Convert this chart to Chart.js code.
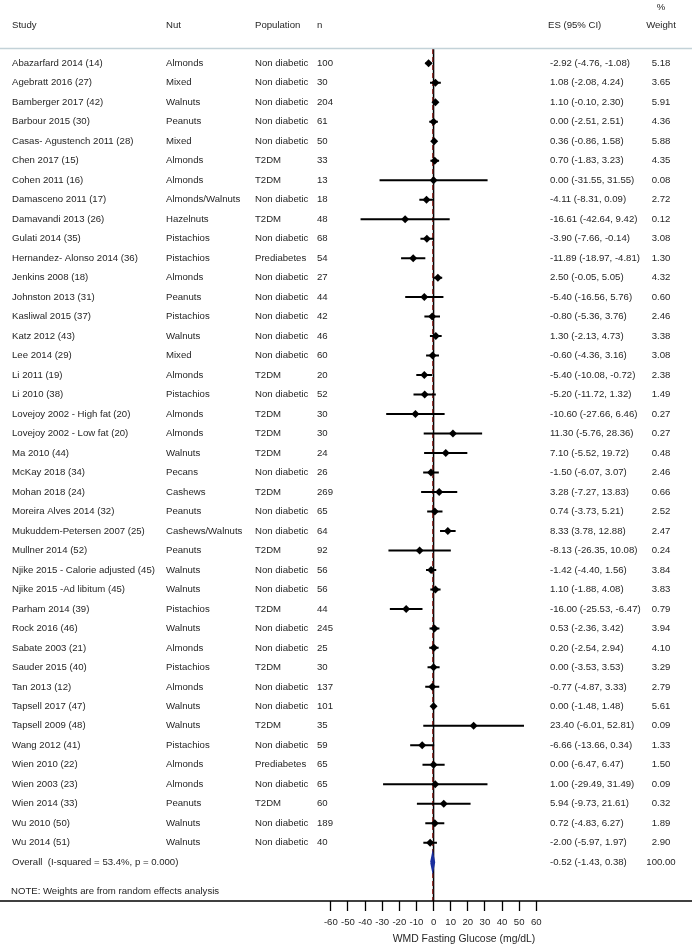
<!DOCTYPE html>
<html>
<head>
<meta charset="utf-8">
<script src="https://cdn.jsdelivr.net/npm/chart.js@4.4.1/dist/chart.umd.min.js"></script>
<style>
  body { margin: 0; background: #fff; }
  canvas { display: block; }
</style>
</head>
<body>
<canvas id="forest" width="692" height="944"></canvas>
<script>
// dados
const studies = [
  'Abazarfard 2014 (14)', 'Agebratt 2016 (27)', 'Bamberger 2017 (42)', 'Barbour 2015 (30)',
  'Casas- Agustench 2011 (28)', 'Chen 2017 (15)', 'Cohen 2011 (16)', 'Damasceno 2011 (17)',
  'Damavandi 2013 (26)', 'Gulati 2014 (35)', 'Hernandez- Alonso 2014 (36)', 'Jenkins 2008 (18)',
  'Johnston 2013 (31)', 'Kasliwal 2015 (37)', 'Katz 2012 (43)', 'Lee 2014 (29)',
  'Li 2011 (19)', 'Li 2010 (38)', 'Lovejoy 2002 - High fat (20)', 'Lovejoy 2002 - Low fat (20)',
  'Ma 2010 (44)', 'McKay 2018 (34)', 'Mohan 2018 (24)', 'Moreira Alves 2014 (32)',
  'Mukuddem-Petersen 2007 (25)', 'Mullner 2014 (52)', 'Njike 2015 - Calorie adjusted (45)', 'Njike 2015 -Ad libitum (45)',
  'Parham 2014 (39)', 'Rock 2016 (46)', 'Sabate 2003 (21)', 'Sauder 2015 (40)',
  'Tan 2013 (12)', 'Tapsell 2017 (47)', 'Tapsell 2009 (48)', 'Wang 2012 (41)',
  'Wien 2010 (22)', 'Wien 2003 (23)', 'Wien 2014 (33)', 'Wu 2010 (50)', 'Wu 2014 (51)'
];
const nuts = [
  'Almonds', 'Mixed', 'Walnuts', 'Peanuts', 'Mixed', 'Almonds', 'Almonds', 'Almonds/Walnuts',
  'Hazelnuts', 'Pistachios', 'Pistachios', 'Almonds', 'Peanuts', 'Pistachios', 'Walnuts', 'Mixed',
  'Almonds', 'Pistachios', 'Almonds', 'Almonds', 'Walnuts', 'Pecans', 'Cashews', 'Peanuts',
  'Cashews/Walnuts', 'Peanuts', 'Walnuts', 'Walnuts', 'Pistachios', 'Walnuts', 'Almonds', 'Pistachios',
  'Almonds', 'Walnuts', 'Walnuts', 'Pistachios', 'Almonds', 'Almonds', 'Peanuts', 'Walnuts', 'Walnuts'
];
const populations = [
  'Non diabetic', 'Non diabetic', 'Non diabetic', 'Non diabetic', 'Non diabetic', 'T2DM', 'T2DM', 'Non diabetic',
  'T2DM', 'Non diabetic', 'Prediabetes', 'Non diabetic', 'Non diabetic', 'Non diabetic', 'Non diabetic', 'Non diabetic',
  'T2DM', 'Non diabetic', 'T2DM', 'T2DM', 'T2DM', 'Non diabetic', 'T2DM', 'Non diabetic',
  'Non diabetic', 'T2DM', 'Non diabetic', 'Non diabetic', 'T2DM', 'Non diabetic', 'Non diabetic', 'T2DM',
  'Non diabetic', 'Non diabetic', 'T2DM', 'Non diabetic', 'Prediabetes', 'Non diabetic', 'T2DM', 'Non diabetic', 'Non diabetic'
];
const sampleSizes = [
  100, 30, 204, 61, 50, 33, 13, 18, 48, 68, 54, 27, 44, 42, 46, 60, 20, 52, 30, 30, 24,
  26, 269, 65, 64, 92, 56, 56, 44, 245, 25, 30, 137, 101, 35, 59, 65, 65, 60, 189, 40
];
const es = [
  -2.92, 1.08, 1.10, 0.00, 0.36, 0.70, 0.00, -4.11, -16.61, -3.90, -11.89, 2.50, -5.40, -0.80,
  1.30, -0.60, -5.40, -5.20, -10.60, 11.30, 7.10, -1.50, 3.28, 0.74, 8.33, -8.13, -1.42, 1.10,
  -16.00, 0.53, 0.20, 0.00, -0.77, 0.00, 23.40, -6.66, 0.00, 1.00, 5.94, 0.72, -2.00
];
const ciLow = [
  -4.76, -2.08, -0.10, -2.51, -0.86, -1.83, -31.55, -8.31, -42.64, -7.66, -18.97, -0.05, -16.56, -5.36,
  -2.13, -4.36, -10.08, -11.72, -27.66, -5.76, -5.52, -6.07, -7.27, -3.73, 3.78, -26.35, -4.40, -1.88,
  -25.53, -2.36, -2.54, -3.53, -4.87, -1.48, -6.01, -13.66, -6.47, -29.49, -9.73, -4.83, -5.97
];
const ciHigh = [
  -1.08, 4.24, 2.30, 2.51, 1.58, 3.23, 31.55, 0.09, 9.42, -0.14, -4.81, 5.05, 5.76, 3.76,
  4.73, 3.16, -0.72, 1.32, 6.46, 28.36, 19.72, 3.07, 13.83, 5.21, 12.88, 10.08, 1.56, 4.08,
  -6.47, 3.42, 2.94, 3.53, 3.33, 1.48, 52.81, 0.34, 6.47, 31.49, 21.61, 6.27, 1.97
];
const weights = [
  5.18, 3.65, 5.91, 4.36, 5.88, 4.35, 0.08, 2.72, 0.12, 3.08, 1.30, 4.32, 0.60, 2.46,
  3.38, 3.08, 2.38, 1.49, 0.27, 0.27, 0.48, 2.46, 0.66, 2.52, 2.47, 0.24, 3.84, 3.83,
  0.79, 3.94, 4.10, 3.29, 2.79, 5.61, 0.09, 1.33, 1.50, 0.09, 0.32, 1.89, 2.90
];
const overallLabel = 'Overall  (I-squared = 53.4%, p = 0.000)';
const overallES = -0.52;
const overallLow = -1.43;
const overallHigh = 0.38;
const overallWeight = 100.00;
const noteText = 'NOTE: Weights are from random effects analysis';

const tickValues = [-60, -50, -40, -30, -20, -10, 0, 10, 20, 30, 40, 50, 60];
const tickLabels = ['-60', '-50', '-40', '-30', '-20', '-10', '0', '10', '20', '30', '40', '50', '60'];
const xTitle = 'WMD Fasting Glucose (mg/dL)';

const FONT = '"Liberation Sans", Arial, sans-serif';
const overallRow = studies.length;
const yTop = -0.733;
const yBottom = 42.99;

// linhas do IC separadas por pontos nulos
const ciData = [];
studies.forEach((s, i) => {
  ciData.push({ x: ciLow[i], y: i });
  ciData.push({ x: ciHigh[i], y: i });
  ciData.push({ x: ciHigh[i], y: null });
});
const pointData = es.map((v, i) => ({ x: v, y: i }));
const diamondData = [
  { x: overallLow, y: overallRow },
  { x: overallES, y: overallRow - 0.39 },
  { x: overallHigh, y: overallRow },
  { x: overallES, y: overallRow + 0.39 },
  { x: overallLow, y: overallRow }
];

function fmt(v) { return v.toFixed(2); }

const textColumns = {
  id: 'textColumns',
  afterDraw(chart) {
    const ctx = chart.ctx;
    const y = chart.scales.y;
    const area = chart.chartArea;
    ctx.save();
    // linha do cabeçalho
    ctx.strokeStyle = '#c3d2d8';
    ctx.lineWidth = 1.5;
    ctx.beginPath();
    ctx.moveTo(0, 48.5);
    ctx.lineTo(692, 48.5);
    ctx.stroke();
    // eixo x na largura toda
    ctx.strokeStyle = '#000';
    ctx.lineWidth = 1.3;
    ctx.beginPath();
    ctx.moveTo(0, area.bottom);
    ctx.lineTo(692, area.bottom);
    ctx.stroke();

    ctx.font = '9.6px ' + FONT;
    ctx.fillStyle = '#262626';
    ctx.textBaseline = 'middle';
    ctx.textAlign = 'left';
    ctx.fillText('Study', 12, 25);
    ctx.fillText('Nut', 166, 25);
    ctx.fillText('Population', 255, 25);
    ctx.fillText('n', 317, 25);
    ctx.fillText('ES (95% CI)', 548, 25);
    ctx.textAlign = 'center';
    ctx.fillText('%', 661, 7);
    ctx.fillText('Weight', 661, 25);

    studies.forEach((s, i) => {
      const py = y.getPixelForValue(i);
      ctx.textAlign = 'left';
      ctx.fillText(s, 12, py);
      ctx.fillText(nuts[i], 166, py);
      ctx.fillText(populations[i], 255, py);
      ctx.fillText(String(sampleSizes[i]), 317, py);
      ctx.fillText(fmt(es[i]) + ' (' + fmt(ciLow[i]) + ', ' + fmt(ciHigh[i]) + ')', 550, py);
      ctx.textAlign = 'center';
      ctx.fillText(fmt(weights[i]), 661, py);
    });
    const po = y.getPixelForValue(overallRow);
    ctx.textAlign = 'left';
    ctx.fillText(overallLabel, 12, po);
    ctx.fillText(fmt(overallES) + ' (' + fmt(overallLow) + ', ' + fmt(overallHigh) + ')', 550, po);
    ctx.textAlign = 'center';
    ctx.fillText(fmt(overallWeight), 661, po);
    ctx.textAlign = 'left';
    ctx.fillText(noteText, 11, 891);
    ctx.restore();
  }
};

const forest = document.getElementById('forest');

new Chart(forest, {
  type: 'line',
  data: {
    datasets: [
      {
        label: 'zero',
        data: [{ x: 0, y: yTop }, { x: 0, y: yBottom }],
        borderColor: '#000',
        borderWidth: 1.5,
        pointRadius: 0,
        order: 5
      },
      {
        label: 'overall',
        data: [{ x: overallES, y: yTop }, { x: overallES, y: yBottom }],
        borderColor: '#92302c',
        borderWidth: 1.3,
        borderDash: [5, 3],
        pointRadius: 0,
        order: 4
      },
      {
        label: 'ci',
        data: ciData,
        borderColor: '#000',
        borderWidth: 2,
        pointRadius: 0,
        spanGaps: false,
        order: 3
      },
      {
        label: 'es',
        data: pointData,
        showLine: false,
        pointStyle: 'rectRot',
        pointRadius: 4,
        pointBackgroundColor: '#000',
        pointBorderColor: '#000',
        pointBorderWidth: 0,
        order: 2
      },
      {
        label: 'diamond',
        data: diamondData,
        borderColor: '#1a2e9e',
        backgroundColor: '#1a2e9e',
        borderWidth: 2,
        fill: 'shape',
        pointRadius: 0,
        tension: 0,
        order: 1
      }
    ]
  },
  options: {
    responsive: false,
    animation: false,
    events: [],
    layout: {
      padding: { left: 240, right: 0, top: 49, bottom: -1 }
    },
    scales: {
      x: {
        type: 'linear',
        min: -113.05,
        max: 148.6,
        afterBuildTicks: (scale) => {
          scale.ticks = tickValues.map(v => ({ value: v }));
        },
        ticks: {
          callback: (v, idx) => tickLabels[idx],
          autoSkip: false,
          maxRotation: 0,
          padding: 6,
          color: '#262626',
          font: { family: FONT, size: 9.6 }
        },
        grid: {
          drawOnChartArea: false,
          drawTicks: true,
          tickLength: 10,
          tickColor: '#000',
          tickWidth: 1.3
        },
        border: { display: false },
        title: {
          display: true,
          text: xTitle,
          color: '#262626',
          font: { family: FONT, size: 10.4 },
          padding: { top: -2, bottom: 0 }
        }
      },
      y: {
        type: 'linear',
        display: false,
        reverse: true,
        min: yTop,
        max: yBottom
      }
    },
    plugins: {
      legend: { display: false },
      tooltip: { enabled: false }
    }
  },
  plugins: [textColumns]
});
</script>
</body>
</html>
